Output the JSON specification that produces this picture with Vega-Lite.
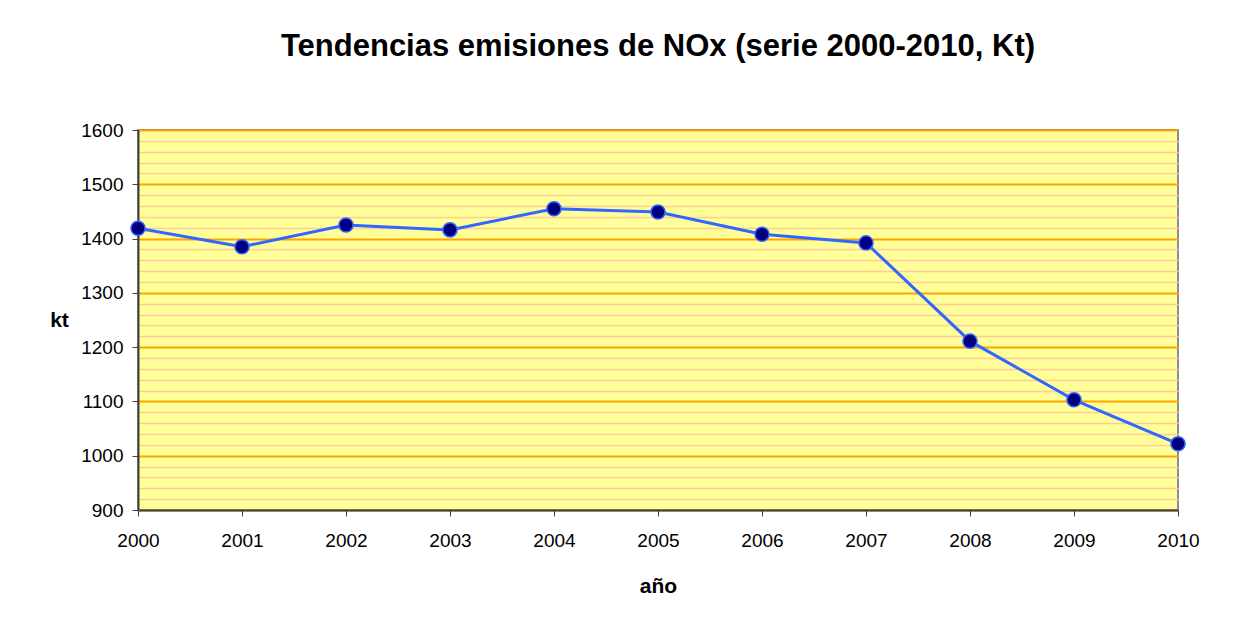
{
  "$schema": "https://vega.github.io/schema/vega-lite/v6.json",
  "width": 1040,
  "height": 380,
  "autosize": {"type": "none"},
  "padding": {"left": 138, "top": 130, "right": 82, "bottom": 107},
  "background": "#ffffff",
  "title": {
    "text": "Tendencias emisiones de NOx (serie 2000-2010, Kt)",
    "font": "Liberation Sans",
    "fontSize": 31,
    "fontWeight": "bold",
    "color": "#000000",
    "anchor": "middle",
    "frame": "group",
    "baseline": "alphabetic",
    "offset": 34
  },
  "config": {
    "view": {"fill": "#FFFF99", "stroke": "#8c8c8c", "strokeWidth": 2},
    "axis": {
      "labelFont": "Liberation Sans",
      "titleFont": "Liberation Sans",
      "labelColor": "#000000",
      "titleColor": "#000000"
    }
  },
  "data": {
    "values": [
      {"anio": 2000, "kt": 1419},
      {"anio": 2001, "kt": 1385},
      {"anio": 2002, "kt": 1425},
      {"anio": 2003, "kt": 1416},
      {"anio": 2004, "kt": 1455},
      {"anio": 2005, "kt": 1449},
      {"anio": 2006, "kt": 1408},
      {"anio": 2007, "kt": 1392},
      {"anio": 2008, "kt": 1211},
      {"anio": 2009, "kt": 1103},
      {"anio": 2010, "kt": 1022}
    ]
  },
  "encoding": {
    "x": {
      "field": "anio",
      "type": "quantitative",
      "scale": {"domain": [2000, 2010], "nice": false, "zero": false},
      "axis": {
        "title": "año",
        "values": [2000, 2001, 2002, 2003, 2004, 2005, 2006, 2007, 2008, 2009, 2010],
        "format": "d",
        "grid": false,
        "labelFontSize": 19,
        "labelPadding": 15,
        "tickSize": 6,
        "tickColor": "#404040",
        "domainColor": "#404040",
        "domainWidth": 2,
        "titleFontSize": 21,
        "titleFontWeight": "bold",
        "titleX": 520,
        "titleY": 82,
        "titleBaseline": "alphabetic",
        "labelFlush": false
      }
    }
  },
  "layer": [
    {
      "mark": {"type": "line", "opacity": 0},
      "encoding": {
        "y": {
          "field": "kt",
          "type": "quantitative",
          "scale": {"domain": [900, 1600], "nice": false, "zero": false},
          "axis": {
            "orient": "left",
            "values": [920, 940, 960, 980, 1020, 1040, 1060, 1080, 1120, 1140, 1160, 1180, 1220, 1240, 1260, 1280, 1320, 1340, 1360, 1380, 1420, 1440, 1460, 1480, 1520, 1540, 1560, 1580],
            "grid": true,
            "gridColor": "#FFCC99",
            "gridWidth": 1.5,
            "gridOpacity": 1,
            "labels": false,
            "ticks": false,
            "domain": false,
            "title": null
          }
        }
      }
    },
    {
      "mark": {"type": "line", "color": "#3366FF", "strokeWidth": 3},
      "encoding": {
        "y": {
          "field": "kt",
          "type": "quantitative",
          "scale": {"domain": [900, 1600], "nice": false, "zero": false},
          "axis": {
            "orient": "left",
            "values": [900, 1000, 1100, 1200, 1300, 1400, 1500, 1600],
            "format": "d",
            "grid": true,
            "gridColor": "#FFA500",
            "gridWidth": 2,
            "gridOpacity": 1,
            "labelFontSize": 19,
            "labelPadding": 9,
            "tickSize": 6,
            "tickColor": "#404040",
            "domainColor": "#404040",
            "domainWidth": 2,
            "title": "kt",
            "titleFontSize": 21,
            "titleFontWeight": "bold",
            "titleAngle": 0,
            "titleX": -79,
            "titleY": 190,
            "titleAlign": "center",
            "titleBaseline": "middle"
          }
        }
      }
    },
    {
      "mark": {"type": "point", "filled": true, "fill": "#000080", "stroke": "#3366FF", "strokeWidth": 1.5, "size": 200, "opacity": 1, "fillOpacity": 1, "strokeOpacity": 1},
      "encoding": {
        "y": {
          "field": "kt",
          "type": "quantitative",
          "scale": {"domain": [900, 1600], "nice": false, "zero": false},
          "axis": null
        }
      }
    }
  ],
  "resolve": {"axis": {"y": "independent"}}
}
